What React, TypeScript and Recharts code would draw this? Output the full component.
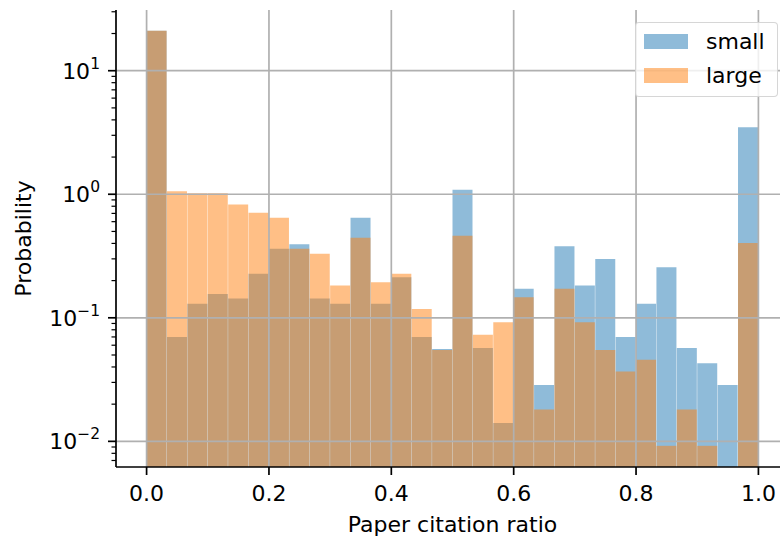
import { BarChart, Bar, XAxis, YAxis, ReferenceLine, Legend, Label } from "recharts";

const FONT = "'DejaVu Sans', sans-serif";
const BIN_COUNT = 30;

// histogram bins on [0, 1], 30 equal bins
const binCenters = Array.from({ length: BIN_COUNT }, (_, i) => (i + 0.5) / BIN_COUNT);
const smallDensity = [21.1, 0.07, 0.13, 0.156, 0.143, 0.227, 0.362, 0.394, 0.143, 0.13, 0.645, 0.13, 0.213, 0.07, 0.056, 1.09, 0.057, 0.0141, 0.172, 0.0286, 0.38, 0.183, 0.299, 0.07, 0.13, 0.257, 0.057, 0.0428, 0.0286, 3.49];
const largeDensity = [21.1, 1.06, 1.02, 1.02, 0.826, 0.708, 0.645, 0.362, 0.33, 0.183, 0.445, 0.194, 0.227, 0.118, 0.055, 0.461, 0.073, 0.092, 0.147, 0.0181, 0.172, 0.092, 0.055, 0.0367, 0.0457, 0.0092, 0.0181, 0.0092, null, 0.404];
const seriesOrder = ["small", "large"];

const xTicks = [0, 0.2, 0.4, 0.6, 0.8, 1.0];
const yMajor = [0.01, 0.1, 1, 10];
const yMinor = [0.007, 0.008, 0.009, 0.02, 0.03, 0.04, 0.05, 0.06, 0.07, 0.08, 0.09, 0.2, 0.3, 0.4, 0.5, 0.6, 0.7, 0.8, 0.9, 2, 3, 4, 5, 6, 7, 8, 9, 20, 30];

const data = binCenters.map((x, i) => ({ x, small: smallDensity[i], large: largeDensity[i] }));

const LogTick = (props: any) => {
  const { x, y, payload } = props;
  const v = payload.value;
  const e = Math.round(Math.log10(v));
  const major = Math.abs(Math.log10(v) - e) < 1e-6;
  const ax = x + 8;
  return (
    <g>
      <line x1={ax - (major ? 8 : 4.5)} x2={ax} y1={y} y2={y} stroke="#000" strokeWidth={major ? 1.7 : 1.2} />
      {major && (
        <text x={ax - 16} y={y + 8} textAnchor="end" fontFamily={FONT} fontSize={22} fill="#000">
          10<tspan dy={-10} fontSize={15.5}>{e < 0 ? `\u2212${-e}` : `${e}`}</tspan>
        </text>
      )}
    </g>
  );
};

const LegendBox = (props: any) => {
  const items = [...(props.payload || [])].sort((a: any, b: any) => seriesOrder.indexOf(a.value) - seriesOrder.indexOf(b.value));
  return (
    <div style={{ width: 143, height: 75, boxSizing: "border-box", background: "rgba(255,255,255,0.8)", border: "1.5px solid rgba(204,204,204,0.8)", borderRadius: 4, paddingTop: 1, paddingLeft: 8, fontFamily: FONT, fontSize: 22, color: "#000" }}>
      {items.map((p: any) => (
        <div key={p.value} style={{ display: "flex", alignItems: "center", height: 34 }}>
          <span style={{ width: 44, height: 15, background: p.color, opacity: 0.5 }} />
          <span style={{ marginLeft: 18 }}>{p.value}</span>
        </div>
      ))}
    </div>
  );
};

export default function App() {
  return (
    <div style={{ position: "fixed", left: 0, top: 0, width: 780, height: 542, overflow: "hidden", background: "#fff", fontFamily: FONT }}>
      <BarChart width={800} height={542} data={data} margin={{ top: 10, right: 11, bottom: 0, left: 0 }} barCategoryGap={0} barGap={0}>
        <XAxis xAxisId="main" type="number" dataKey="x" domain={[-0.05, 1.05]} allowDataOverflow ticks={xTicks} interval={0}
          tickFormatter={(v: number) => v.toFixed(1)} height={75} tickSize={8} tickMargin={10}
          axisLine={{ stroke: "#000", strokeWidth: 1.7 }} tickLine={{ stroke: "#000", strokeWidth: 1.7 }}
          tick={{ fill: "#000", fontSize: 22, fontFamily: FONT }}>
          <Label value="Paper citation ratio" position="insideBottom" offset={10} style={{ fill: "#000", fontSize: 22, fontFamily: FONT }} />
        </XAxis>
        <XAxis xAxisId="top" orientation="top" type="number" dataKey="x" domain={[-0.05, 1.05]} allowDataOverflow height={0}
          tick={false} tickLine={false} axisLine={{ stroke: "#000", strokeWidth: 1.7 }} />
        <YAxis yAxisId="y" scale="log" type="number" domain={[0.0062, 31]} allowDataOverflow ticks={[...yMajor, ...yMinor]} interval={0}
          width={116} tickSize={8} tickMargin={0} tickLine={false} tick={<LogTick />}
          axisLine={{ stroke: "#000", strokeWidth: 1.7 }}>
          <Label value="Probability" angle={-90} position="insideLeft" offset={23} style={{ textAnchor: "middle", fill: "#000", fontSize: 22, fontFamily: FONT }} />
        </YAxis>
        <Bar xAxisId="main" yAxisId="y" dataKey="small" name="small" fill="#1f77b4" fillOpacity={0.5} isAnimationActive={false} />
        <Bar xAxisId="top" yAxisId="y" dataKey="large" name="large" fill="#ff7f0e" fillOpacity={0.5} isAnimationActive={false} />
        {xTicks.map((t) => (
          <ReferenceLine key={`gx${t}`} xAxisId="main" yAxisId="y" x={t} stroke="#b0b0b0" strokeWidth={1.7} />
        ))}
        {yMajor.map((t) => (
          <ReferenceLine key={`gy${t}`} xAxisId="main" yAxisId="y" y={t} stroke="#b0b0b0" strokeWidth={1.7} />
        ))}
        <Legend layout="vertical" align="center" verticalAlign="middle" itemSorter={null} content={<LegendBox />}
          wrapperStyle={{ position: "absolute", left: 635, top: 22, width: 143, height: 75 }} />
      </BarChart>
    </div>
  );
}
